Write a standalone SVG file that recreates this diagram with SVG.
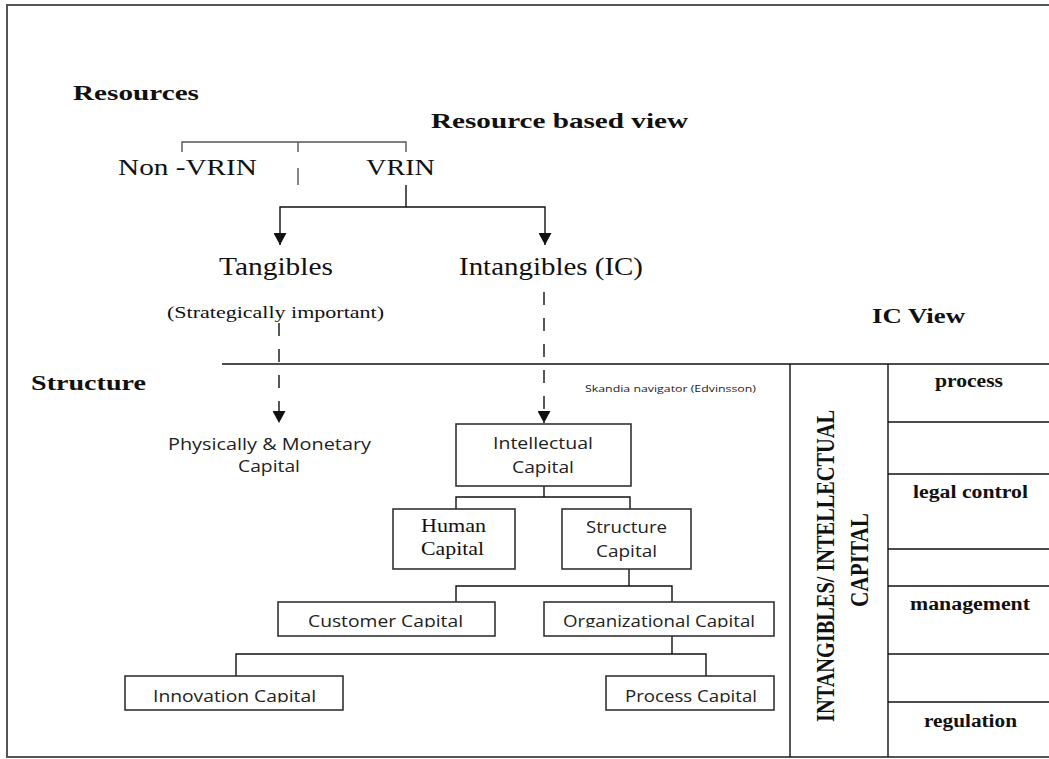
<svg xmlns="http://www.w3.org/2000/svg" width="1049" height="759" viewBox="0 0 1049 759">
<style>
.serif{font-family:"Liberation Serif","Times New Roman",serif;fill:#111}
.bold{font-weight:bold}
.sans{font-family:"Open Sans","Liberation Sans",sans-serif;fill:#222}
.box{fill:#fff;stroke:#333;stroke-width:1.6}
.ln{fill:none;stroke:#111;stroke-width:1.4}
.gl{fill:none;stroke:#555;stroke-width:1.4}
.dash{fill:none;stroke:#111;stroke-width:1.4;stroke-dasharray:13 13}
</style>
<defs>
<marker id="arr" markerUnits="userSpaceOnUse" markerWidth="12" markerHeight="13" viewBox="0 0 12 13" refX="12" refY="6.5" orient="auto">
<path d="M0,0 L12,6.5 L0,13 z" fill="#111" stroke="none"/>
</marker>
<clipPath id="clipRow1"><rect x="270" y="600" width="510" height="27.5"/></clipPath>
<clipPath id="clipRow2"><rect x="120" y="674" width="660" height="28.5"/></clipPath>
</defs>
<rect width="1049" height="759" fill="#fff"/>
<rect x="7" y="5" width="1070" height="752" fill="none" stroke="#555" stroke-width="2"/>

<g id="headings">
<text class="serif bold" x="73" y="100" font-size="22" textLength="126" lengthAdjust="spacingAndGlyphs">Resources</text>
<text class="serif bold" x="431" y="128" font-size="22" textLength="257" lengthAdjust="spacingAndGlyphs">Resource based view</text>
<text class="serif bold" x="872" y="323" font-size="21" textLength="93" lengthAdjust="spacingAndGlyphs">IC View</text>
<text class="serif bold" x="31" y="390" font-size="21" textLength="115" lengthAdjust="spacingAndGlyphs">Structure</text>
<text class="sans" x="585" y="392" font-size="9.5" textLength="171" lengthAdjust="spacingAndGlyphs">Skandia navigator  (Edvinsson)</text>
</g>

<g id="connectors">
<polyline class="gl" points="182,152 182,142 406,142 406,152"/>
<line class="gl" x1="298" y1="142" x2="298" y2="152"/>
<line class="gl" x1="298" y1="168" x2="298" y2="185"/>
<polyline class="ln" points="406,185 406,207 280,207 280,245" marker-end="url(#arr)"/>
<polyline class="ln" points="406,207 545,207 545,245" marker-end="url(#arr)"/>
<line class="dash" x1="279" y1="323" x2="279" y2="423" marker-end="url(#arr)"/>
<line class="dash" x1="544" y1="292" x2="544" y2="423" marker-end="url(#arr)"/>
<line class="ln" x1="222" y1="364" x2="1049" y2="364"/>
<polyline class="ln" points="544,486 544,497"/>
<polyline class="ln" points="456,509 456,497 630,497 630,509"/>
<polyline class="ln" points="629,569 629,586"/>
<polyline class="ln" points="456,602 456,586 672,586 672,602"/>
<polyline class="ln" points="672,636 672,654"/>
<polyline class="ln" points="236,676 236,654 706,654 706,676"/>
</g>

<g id="node-nonvrin"><text class="serif" x="118" y="175" font-size="23" textLength="139" lengthAdjust="spacingAndGlyphs">Non -VRIN</text></g>
<g id="node-vrin"><text class="serif" x="366" y="175" font-size="23" textLength="69" lengthAdjust="spacingAndGlyphs">VRIN</text></g>
<g id="node-tangibles">
<text class="serif" x="219" y="275" font-size="25" textLength="114" lengthAdjust="spacingAndGlyphs">Tangibles</text>
<text class="serif" x="167" y="318" font-size="16" textLength="217" lengthAdjust="spacingAndGlyphs">(Strategically important)</text>
</g>
<g id="node-intangibles"><text class="serif" x="459" y="275" font-size="25" textLength="184" lengthAdjust="spacingAndGlyphs">Intangibles (IC)</text></g>

<g id="node-physical">
<text class="sans" x="168" y="450" font-size="16" textLength="203" lengthAdjust="spacingAndGlyphs">Physically &amp; Monetary</text>
<text class="sans" x="238" y="472" font-size="16" textLength="62" lengthAdjust="spacingAndGlyphs">Capital</text>
</g>

<g id="node-intellectual">
<rect class="box" x="456" y="424" width="175" height="62"/>
<text class="sans" x="493" y="449" font-size="16" textLength="100" lengthAdjust="spacingAndGlyphs">Intellectual</text>
<text class="sans" x="512" y="473" font-size="16" textLength="62" lengthAdjust="spacingAndGlyphs">Capital</text>
</g>
<g id="node-human">
<rect class="box" x="393" y="509" width="122" height="60"/>
<text class="serif" x="421" y="532" font-size="18" textLength="65" lengthAdjust="spacingAndGlyphs">Human</text>
<text class="serif" x="421" y="555" font-size="18" textLength="63" lengthAdjust="spacingAndGlyphs">Capital</text>
</g>
<g id="node-structure">
<rect class="box" x="562" y="509" width="129" height="60"/>
<text class="sans" x="586" y="533" font-size="16" textLength="81" lengthAdjust="spacingAndGlyphs">Structure</text>
<text class="sans" x="596" y="557" font-size="16" textLength="61" lengthAdjust="spacingAndGlyphs">Capital</text>
</g>
<g id="node-customer">
<rect class="box" x="278" y="602" width="217" height="34"/>
<text class="sans" x="308" y="627" font-size="16" textLength="155" lengthAdjust="spacingAndGlyphs" clip-path="url(#clipRow1)">Customer Capital</text>
</g>
<g id="node-organizational">
<rect class="box" x="544" y="602" width="230" height="34"/>
<text class="sans" x="563" y="627" font-size="16" textLength="192" lengthAdjust="spacingAndGlyphs" clip-path="url(#clipRow1)">Organizational Capital</text>
</g>
<g id="node-innovation">
<rect class="box" x="125" y="676" width="218" height="34"/>
<text class="sans" x="153" y="702" font-size="16" textLength="163" lengthAdjust="spacingAndGlyphs" clip-path="url(#clipRow2)">Innovation Capital</text>
</g>
<g id="node-process">
<rect class="box" x="606" y="676" width="168" height="34"/>
<text class="sans" x="625" y="702" font-size="16" textLength="132" lengthAdjust="spacingAndGlyphs" clip-path="url(#clipRow2)">Process Capital</text>
</g>

<g id="ic-panel">
<line class="ln" x1="790" y1="364" x2="790" y2="757"/>
<line class="ln" x1="888" y1="364" x2="888" y2="757"/>
<line class="ln" x1="888" y1="422" x2="1049" y2="422"/>
<line class="ln" x1="888" y1="474" x2="1049" y2="474"/>
<line class="ln" x1="888" y1="549" x2="1049" y2="549"/>
<line class="ln" x1="888" y1="586" x2="1049" y2="586"/>
<line class="ln" x1="888" y1="654" x2="1049" y2="654"/>
<line class="ln" x1="888" y1="702" x2="1049" y2="702"/>
<text class="serif bold" transform="translate(834,722) rotate(-90)" font-size="26" textLength="312" lengthAdjust="spacingAndGlyphs">INTANGIBLES/ INTELLECTUAL</text>
<text class="serif bold" transform="translate(868,607) rotate(-90)" font-size="26" textLength="94" lengthAdjust="spacingAndGlyphs">CAPITAL</text>
</g>
<g id="node-process-label"><text class="serif bold" x="935" y="387" font-size="18" textLength="68" lengthAdjust="spacingAndGlyphs">process</text></g>
<g id="node-legal"><text class="serif bold" x="913" y="498" font-size="18" textLength="115" lengthAdjust="spacingAndGlyphs">legal control</text></g>
<g id="node-management"><text class="serif bold" x="910" y="610" font-size="18" textLength="120" lengthAdjust="spacingAndGlyphs">management</text></g>
<g id="node-regulation"><text class="serif bold" x="924" y="727" font-size="18" textLength="93" lengthAdjust="spacingAndGlyphs">regulation</text></g>
</svg>
